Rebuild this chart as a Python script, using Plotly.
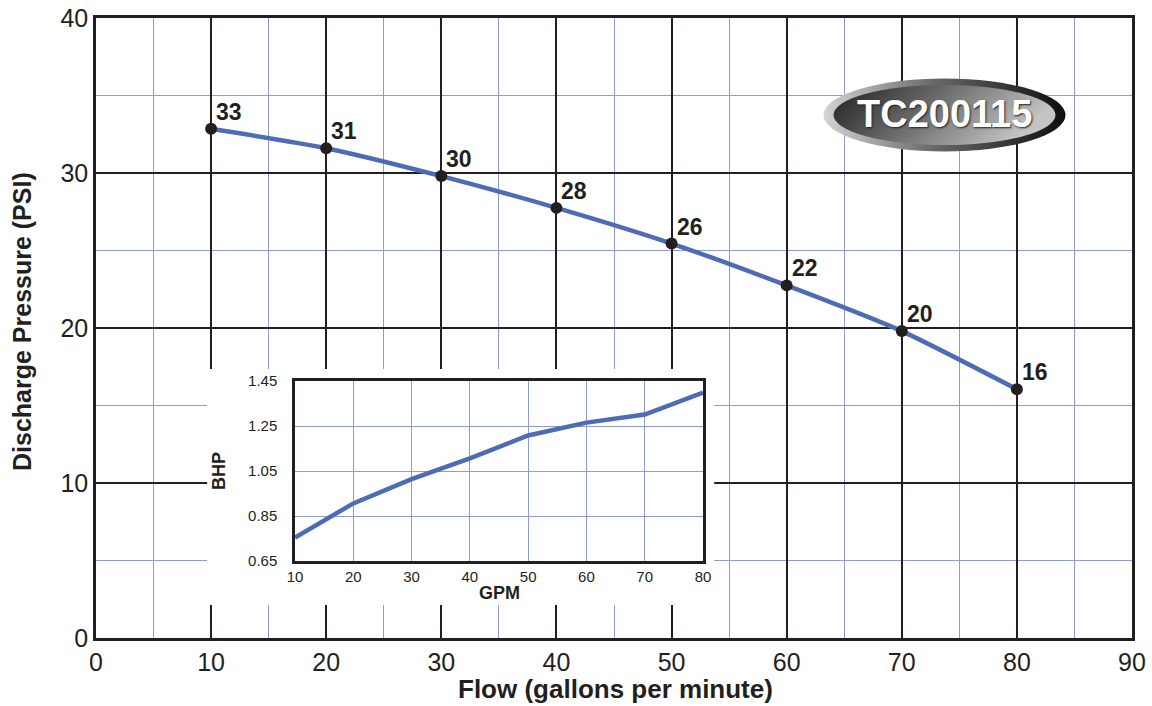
import base64
import plotly.graph_objects as go

# ---- data ----
flow_gpm = [10, 20, 30, 40, 50, 60, 70, 80]
pressure_psi = [32.85, 31.6, 29.8, 27.75, 25.45, 22.75, 19.8, 16.05]
pressure_labels = ["33", "31", "30", "28", "26", "22", "20", "16"]

bhp_gpm = [10, 20, 30, 40, 50, 60, 70, 80]
bhp_values = [0.754, 0.906, 1.014, 1.106, 1.208, 1.265, 1.301, 1.398]

main_x_ticks = [0, 10, 20, 30, 40, 50, 60, 70, 80, 90]
main_y_ticks = [0, 10, 20, 30, 40]
inset_x_ticks = [10, 20, 30, 40, 50, 60, 70, 80]
inset_y_ticks = [0.65, 0.85, 1.05, 1.25, 1.45]
inset_y_labels = ["0.65", "0.85", "1.05", "1.25", "1.45"]

model_name = "TC200115"
x_title = "Flow (gallons per minute)"
y_title = "Discharge Pressure (PSI)"
inset_x_title = "GPM"
inset_y_title = "BHP"

# ---- styles ----
BLACK = "#231f20"
BLUE_GRID = "#8f9bd4"
LINE_BLUE = "#4e6bb6"
FONT = "Liberation Sans, Arial, sans-serif"

W, H = 1152, 706
ML, MR, MT, MB = 96, 20, 18, 68

fig = go.Figure()

# main curve
fig.add_trace(go.Scatter(
    x=flow_gpm, y=pressure_psi, mode="lines",
    line=dict(color=LINE_BLUE, width=4.5, shape="spline", smoothing=0.6),
    xaxis="x", yaxis="y", hoverinfo="skip", showlegend=False))
fig.add_trace(go.Scatter(
    x=flow_gpm, y=pressure_psi, mode="markers",
    marker=dict(color=BLACK, size=12),
    xaxis="x", yaxis="y", showlegend=False))

# point labels
for xv, yv, lab in zip(flow_gpm, pressure_psi, pressure_labels):
    fig.add_annotation(x=xv, y=yv, xref="x", yref="y", text=lab, showarrow=False,
                       xanchor="left", yanchor="bottom", xshift=3, yshift=2,
                       font=dict(family=FONT, size=23, color=BLACK, weight="bold"))

# inset curve
fig.add_trace(go.Scatter(
    x=bhp_gpm, y=bhp_values, mode="lines",
    line=dict(color=LINE_BLUE, width=4.5),
    xaxis="x2", yaxis="y2", showlegend=False))

plot_w = W - ML - MR
plot_h = H - MT - MB


def px2paper_x(px):
    return (px - ML) / plot_w


def px2paper_y(py):
    return (H - MB - py) / plot_h


inset_dom_x = [px2paper_x(295), px2paper_x(703)]
inset_dom_y = [px2paper_y(561), px2paper_y(381)]

# white backing under inset (covers main grid)
fig.add_shape(type="rect", xref="x", yref="y", x0=9.65, x1=53.7, y0=2.13, y1=17.35,
              fillcolor="white", line=dict(width=0), layer="between")

# logo ellipse as svg image
svg = """<svg xmlns='http://www.w3.org/2000/svg' width='243' height='74' viewBox='0 0 243 74'>
<defs>
<linearGradient id='o' x1='0' y1='0' x2='1' y2='0'>
<stop offset='0' stop-color='#d4d4d4'/><stop offset='0.45' stop-color='#6a6a6a'/><stop offset='1' stop-color='#0d0d0d'/>
</linearGradient>
<linearGradient id='i' x1='0' y1='0' x2='1' y2='0.3'>
<stop offset='0' stop-color='#1e1e1e'/><stop offset='0.5' stop-color='#6e6e6e'/><stop offset='1' stop-color='#c4c4c4'/>
</linearGradient>
</defs>
<ellipse cx='121.5' cy='37' rx='121' ry='36.5' fill='url(#o)'/>
<ellipse cx='121.5' cy='37' rx='111' ry='30' fill='url(#i)'/>
</svg>"""
src = "data:image/svg+xml;base64," + base64.b64encode(svg.encode()).decode()
fig.add_layout_image(dict(source=src, xref="paper", yref="paper",
                          x=px2paper_x(823), y=px2paper_y(78),
                          sizex=243 / plot_w, sizey=74 / plot_h,
                          sizing="stretch", xanchor="left", yanchor="top", layer="above"))
fig.add_annotation(xref="paper", yref="paper", x=px2paper_x(944), y=px2paper_y(114),
                   text=model_name, showarrow=False, xanchor="center", yanchor="middle",
                   font=dict(family=FONT, size=38, color="white", weight="bold",
                             shadow="1px 1px 2px #222"))

# axis titles as annotations (precise placement)
fig.add_annotation(xref="paper", yref="paper", x=px2paper_x(615), y=px2paper_y(689),
                   text=x_title, showarrow=False, xanchor="center", yanchor="middle",
                   font=dict(family=FONT, size=26, color=BLACK, weight="bold"))
fig.add_annotation(xref="paper", yref="paper", x=px2paper_x(22), y=px2paper_y(322),
                   text=y_title, showarrow=False, xanchor="center", yanchor="middle",
                   textangle=-90,
                   font=dict(family=FONT, size=25, color=BLACK, weight="bold"))
fig.add_annotation(xref="paper", yref="paper", x=px2paper_x(499), y=px2paper_y(593),
                   text=inset_x_title, showarrow=False, xanchor="center", yanchor="middle",
                   font=dict(family=FONT, size=18, color=BLACK, weight="bold"))
fig.add_annotation(xref="paper", yref="paper", x=px2paper_x(219), y=px2paper_y(471),
                   text=inset_y_title, showarrow=False, xanchor="center", yanchor="middle",
                   textangle=-90,
                   font=dict(family=FONT, size=18, color=BLACK, weight="bold"))

fig.update_layout(
    template="none",
    width=W, height=H,
    margin=dict(l=ML, r=MR, t=MT, b=MB, autoexpand=False),
    paper_bgcolor="white", plot_bgcolor="white",
    font=dict(family=FONT, color=BLACK),
    showlegend=False,
    xaxis=dict(
        range=[0, 90], tickvals=main_x_ticks, ticks="", showline=True, linecolor=BLACK,
        linewidth=2.5, mirror=True, showgrid=True, gridcolor=BLACK, gridwidth=2,
        zeroline=False, tickfont=dict(size=25, color=BLACK), automargin=False,
        ticklabeloverflow="allow",
        minor=dict(dtick=5, showgrid=True, gridcolor=BLUE_GRID, gridwidth=1),
    ),
    yaxis=dict(
        range=[0, 40], tickvals=main_y_ticks, ticks="", showline=True, linecolor=BLACK,
        linewidth=2.5, mirror=True, showgrid=True, gridcolor=BLACK, gridwidth=2,
        zeroline=False, tickfont=dict(size=25, color=BLACK), automargin=False,
        ticklabeloverflow="allow",
        minor=dict(dtick=5, showgrid=True, gridcolor=BLUE_GRID, gridwidth=1),
    ),
    xaxis2=dict(
        domain=inset_dom_x, anchor="y2", range=[10, 80], tickvals=inset_x_ticks,
        ticks="", showline=True, linecolor=BLACK, linewidth=2.5, mirror=True,
        showgrid=True, gridcolor=BLUE_GRID, gridwidth=1, zeroline=False,
        tickfont=dict(size=15, color=BLACK), automargin=False,
    ),
    yaxis2=dict(
        domain=inset_dom_y, anchor="x2", range=[0.65, 1.45], tickvals=inset_y_ticks,
        ticktext=inset_y_labels, ticklabelstandoff=12,
        ticks="", showline=True, linecolor=BLACK, linewidth=2.5, mirror=True,
        showgrid=True, gridcolor=BLUE_GRID, gridwidth=1, zeroline=False,
        tickfont=dict(size=15, color=BLACK), automargin=False,
    ),
)

# remove the page's default 8px body margin so the figure sits at the window corner
fig.write_html("out.html", config={"displayModeBar": False},
               post_script="document.body.style.margin='0';")
